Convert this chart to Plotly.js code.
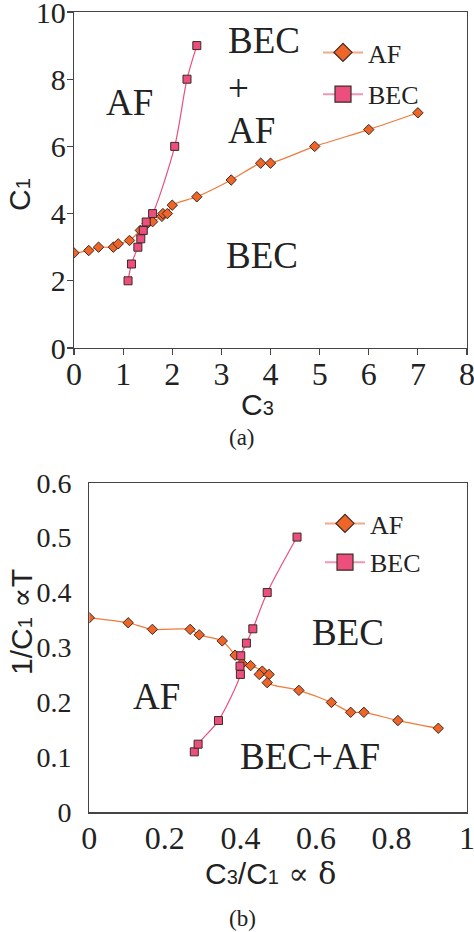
<!DOCTYPE html>
<html>
<head>
<meta charset="utf-8">
<script src="https://cdn.plot.ly/plotly-3.0.1.min.js"></script>
<style>html,body{margin:0;padding:0;background:#fff;}#chart{width:474px;height:932px;}</style>
</head>
<body>
<div id="chart"></div>
<script>
// Panel (a): C1 vs C3
var afC3 = [0, 0.3, 0.5, 0.8, 0.9, 1.13, 1.35, 1.49, 1.6, 1.79, 1.81, 1.9, 2.0, 2.5, 3.2, 3.8, 4.0, 4.9, 6.0, 7.0];
var afC1 = [2.83, 2.9, 3.0, 3.0, 3.1, 3.2, 3.5, 3.7, 3.76, 3.92, 4.0, 4.0, 4.25, 4.5, 5.0, 5.5, 5.5, 6.0, 6.5, 7.0];
var becC3 = [1.1, 1.17, 1.3, 1.36, 1.41, 1.47, 1.6, 2.05, 2.3, 2.5];
var becC1 = [2.0, 2.5, 3.0, 3.25, 3.5, 3.75, 4.0, 6.0, 8.0, 9.0];

// Panel (b): 1/C1 vs C3/C1
var afDelta = [0, 0.103, 0.167, 0.267, 0.291, 0.352, 0.386, 0.405, 0.427, 0.458, 0.450, 0.476, 0.471, 0.555, 0.641, 0.692, 0.727, 0.817, 0.924];
var afT = [0.354, 0.345, 0.333, 0.333, 0.323, 0.312, 0.286, 0.271, 0.267, 0.257, 0.251, 0.251, 0.236, 0.222, 0.200, 0.182, 0.182, 0.167, 0.153];
var becDelta = [0.278, 0.288, 0.342, 0.400, 0.399, 0.401, 0.416, 0.433, 0.471, 0.550];
var becT = [0.110, 0.124, 0.167, 0.251, 0.266, 0.285, 0.308, 0.334, 0.400, 0.501];

var seriesNames = ['AF', 'BEC'];
var xTicksA = [0, 1, 2, 3, 4, 5, 6, 7, 8];
var yTicksA = [0, 2, 4, 6, 8, 10];
var xTicksB = [0, 0.2, 0.4, 0.6, 0.8, 1];
var yTicksB = [0, 0.1, 0.2, 0.3, 0.4, 0.5, 0.6];

var W = 474, H = 932;
function px(v){return v / W;}
function py(v){return 1 - v / H;}

var orange = '#EF6528', orangeLine = '#F07A3C', orangeLeg = '#F7A888';
var pink = '#EC4F7E', pinkLine = '#E9507F', pinkLeg = '#F296B4';
var edge = '#3a2a24';
var serif = 'Liberation Serif, Times New Roman, serif';
var sans = 'Liberation Sans, Arial, sans-serif';

function mk(x, y, xa, ya, name, sym, fill, lc){
  return {x: x, y: y, xaxis: xa, yaxis: ya, name: name, showlegend: false,
    type: 'scatter', mode: 'lines+markers',
    line: {color: lc, width: 1.2, shape: 'spline', smoothing: 0.8},
    marker: {symbol: sym, size: 8, color: fill, line: {color: edge, width: 1}}};
}
function leg(name, sym, size, fill, lc, legendId, grp){
  return {x: [null], y: [null], xaxis: legendId === 'legend' ? 'x' : 'x2', yaxis: legendId === 'legend' ? 'y' : 'y2',
    name: name, legend: legendId, legendgroup: grp, showlegend: true, type: 'scatter', mode: 'lines+markers',
    line: {color: lc, width: 2}, marker: {symbol: sym, size: size, color: fill, line: {color: edge, width: 1.2}}};
}

var traces = [
  mk(afC3, afC1, 'x', 'y', seriesNames[0], 'diamond', orange, orangeLine),
  mk(becC3, becC1, 'x', 'y', seriesNames[1], 'square', pink, pinkLine),
  mk(afDelta, afT, 'x2', 'y2', seriesNames[0], 'diamond', orange, orangeLine),
  mk(becDelta, becT, 'x2', 'y2', seriesNames[1], 'square', pink, pinkLine),
  leg(seriesNames[0], 'diamond', 14, orange, orangeLeg, 'legend', 'a1'),
  leg(seriesNames[1], 'square', 16, pink, pinkLeg, 'legend', 'a2'),
  leg(seriesNames[0], 'diamond', 14, orange, orangeLeg, 'legend2', 'b1'),
  leg(seriesNames[1], 'square', 16, pink, pinkLeg, 'legend2', 'b2')
];

var axCommon = {showgrid: false, zeroline: false, showline: true, linecolor: '#444', linewidth: 1.2,
  mirror: true, ticks: 'outside', ticklen: 6, tickcolor: '#444', tickwidth: 1.2,
  ticklabeloverflow: 'allow',
  tickfont: {family: serif, size: 32, color: '#222'}, fixedrange: true};

function ax(extra){ return Object.assign({}, axCommon, extra); }

var bigText = {family: serif, size: 37, color: '#222'};
var titleFont = {family: sans, size: 30, color: '#222'};
var symStyle = 'font-family:DejaVu Serif';

var annotations = [
  // panel (a) region labels
  {xref: 'x', yref: 'y', x: 3.1, y: 9.16, text: 'BEC', xanchor: 'left', yanchor: 'middle', showarrow: false, font: bigText},
  {xref: 'x', yref: 'y', x: 3.1, y: 7.73, text: '+', xanchor: 'left', yanchor: 'middle', showarrow: false, font: bigText},
  {xref: 'x', yref: 'y', x: 3.1, y: 6.48, text: 'AF', xanchor: 'left', yanchor: 'middle', showarrow: false, font: bigText},
  {xref: 'x', yref: 'y', x: 1.12, y: 7.31, text: 'AF', xanchor: 'center', yanchor: 'middle', showarrow: false, font: bigText},
  {xref: 'x', yref: 'y', x: 3.83, y: 2.75, text: 'BEC', xanchor: 'center', yanchor: 'middle', showarrow: false, font: bigText},
  // panel (b) region labels
  {xref: 'x2', yref: 'y2', x: 0.684, y: 0.328, text: 'BEC', xanchor: 'center', yanchor: 'middle', showarrow: false, font: bigText},
  {xref: 'x2', yref: 'y2', x: 0.177, y: 0.210, text: 'AF', xanchor: 'center', yanchor: 'middle', showarrow: false, font: bigText},
  {xref: 'x2', yref: 'y2', x: 0.585, y: 0.101, text: 'BEC+AF', xanchor: 'center', yanchor: 'middle', showarrow: false, font: bigText},
  // axis titles
  {xref: 'paper', yref: 'paper', x: px(20), y: py(195), text: 'C<span style="font-size:20px">1</span>', textangle: -90, showarrow: false, xanchor: 'center', yanchor: 'middle', font: titleFont},
  {xref: 'paper', yref: 'paper', x: px(257), y: py(405), text: 'C<span style="font-size:20px">3</span>', showarrow: false, xanchor: 'center', yanchor: 'middle', font: titleFont},
  {xref: 'paper', yref: 'paper', x: px(242), y: py(437), text: '(a)', showarrow: false, xanchor: 'center', yanchor: 'middle', font: {family: serif, size: 23, color: '#222'}},
  {xref: 'paper', yref: 'paper', x: px(21), y: py(622), text: '1/C<span style="font-size:20px">1</span><span style="' + symStyle + '"> \u221D</span>T', textangle: -90, showarrow: false, xanchor: 'center', yanchor: 'middle', font: titleFont},
  {xref: 'paper', yref: 'paper', x: px(270), y: py(873), text: 'C<span style="font-size:20px">3</span>/C<span style="font-size:20px">1</span><span style="' + symStyle + '"> \u221D \u03B4</span>', showarrow: false, xanchor: 'center', yanchor: 'middle', font: titleFont},
  {xref: 'paper', yref: 'paper', x: px(242), y: py(918), text: '(b)', showarrow: false, xanchor: 'center', yanchor: 'middle', font: {family: serif, size: 23, color: '#222'}}
];

var layout = {
  width: W, height: H,
  margin: {l: 0, r: 0, t: 0, b: 0},
  paper_bgcolor: '#fff', plot_bgcolor: '#fff',
  xaxis: ax({domain: [px(74), px(467)], range: [0, 8], tickvals: xTicksA, anchor: 'y', ticklabelstandoff: -9}),
  yaxis: ax({domain: [py(348), py(12)], range: [0, 10], tickvals: yTicksA, anchor: 'x', ticklabelstandoff: -5, tickfont: {family: serif, size: 30, color: '#222'}}),
  xaxis2: ax({domain: [px(89.3), px(467)], range: [0, 1], tickvals: xTicksB, ticktext: xTicksB.map(String), anchor: 'y2', ticks: '', ticklen: 0, ticklabelstandoff: -3}),
  yaxis2: ax({domain: [py(812.3), py(482.7)], range: [0, 0.6], tickvals: yTicksB, ticktext: yTicksB.map(String), anchor: 'x2', ticks: '', ticklen: 0, ticklabelstandoff: 11, tickfont: {family: serif, size: 28, color: '#222'}}),
  legend: {x: px(318), y: py(29), xanchor: 'left', yanchor: 'top', bgcolor: 'rgba(0,0,0,0)', borderwidth: 0,
    font: {family: serif, size: 26, color: '#222'}, itemwidth: 40, tracegroupgap: 5},
  legend2: {x: px(320), y: py(500), xanchor: 'left', yanchor: 'top', bgcolor: 'rgba(0,0,0,0)', borderwidth: 0,
    font: {family: serif, size: 26, color: '#222'}, itemwidth: 40, tracegroupgap: 2},
  annotations: annotations,
  showlegend: true
};

Plotly.newPlot('chart', traces, layout, {displayModeBar: false, staticPlot: true});
</script>
</body>
</html>
